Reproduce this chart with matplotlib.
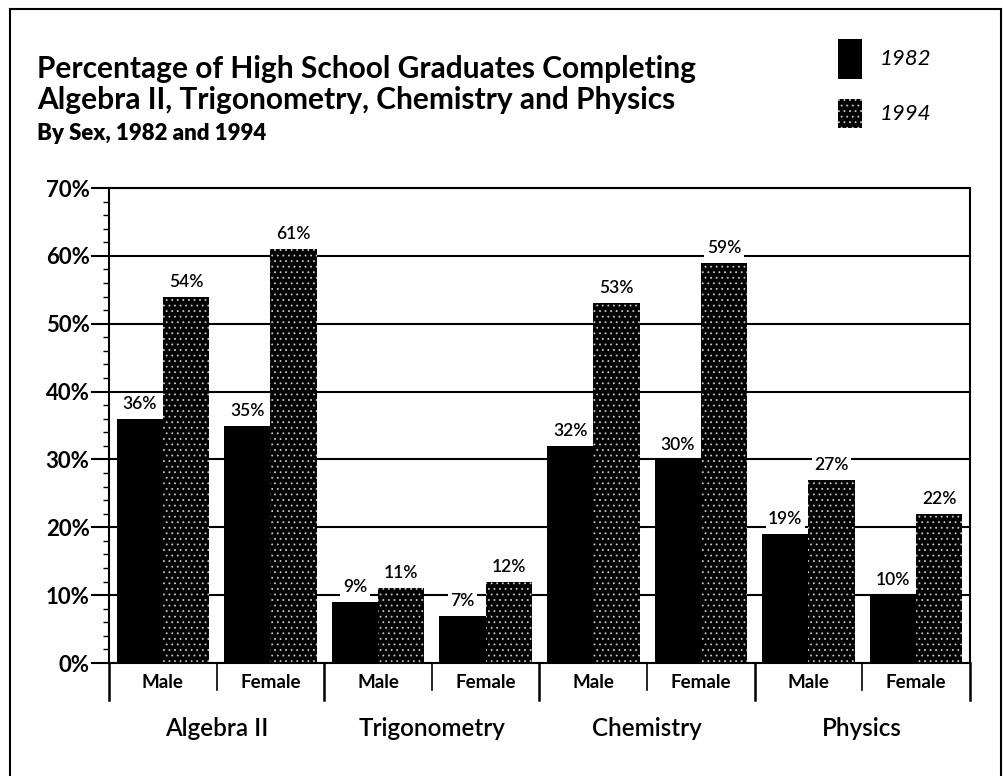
import matplotlib
matplotlib.use("Agg")
import matplotlib.pyplot as plt
from matplotlib.patches import Rectangle

plt.rcParams['font.family'] = ['Lato', 'DejaVu Sans']
plt.rcParams['hatch.linewidth'] = 0.6

# data
subjects = ["Algebra II", "Trigonometry", "Chemistry", "Physics"]
sexes = ["Male", "Female"]
pct_1982 = [36, 35, 9, 7, 32, 30, 19, 10]
pct_1994 = [54, 61, 11, 12, 53, 59, 27, 22]
years = ["1982", "1994"]

fig = plt.figure(figsize=(10.04, 7.76), dpi=100)
ax = fig.add_axes([0.1086, 0.1456, 0.8574, 0.6121])

x = list(range(len(pct_1982)))
w = 0.43
ax.bar([i - w / 2 for i in x], pct_1982, width=w, color="black", lw=0, zorder=2)
ax.bar([i + w / 2 for i in x], pct_1994, width=w, color="black",
       edgecolor="#c8c8c8", hatch="...", lw=0, zorder=2)

# value labels
for i in x:
    for off, v in ((-w / 2, pct_1982[i]), (w / 2, pct_1994[i])):
        ax.annotate(f"{v}%", (i + off, v), xytext=(0, 5), textcoords="offset points",
                    ha="center", va="bottom", fontsize=12.5, fontweight="semibold",
                    bbox=dict(boxstyle="square,pad=0.15", fc="white", ec="none"),
                    zorder=3)

ax.set_xlim(-0.5, 7.5)
ax.set_ylim(0, 70)
ax.set_yticks(range(0, 71, 10))
ax.set_yticklabels([f"{t}%" for t in range(0, 71, 10)], fontsize=16, fontweight="bold")
ax.set_yticks(range(0, 71, 2), minor=True)
ax.tick_params(axis="y", which="major", length=13, width=1.5, pad=1)
ax.tick_params(axis="y", which="minor", length=4, width=1)
ax.set_xticks([])
ax.yaxis.grid(True, color="black", lw=1.5, zorder=0)
ax.set_axisbelow(True)
for s in ax.spines.values():
    s.set_linewidth(1.5)

# group separators and labels below the axis
tr = ax.get_xaxis_transform()
for b in [-0.5, 1.5, 3.5, 5.5, 7.5]:
    ax.plot([b, b], [0, -0.078], transform=tr, color="black", lw=1.8, clip_on=False)
for b in [0.5, 2.5, 4.5, 6.5]:
    ax.plot([b, b], [0, -0.057], transform=tr, color="black", lw=1.2, clip_on=False)
for i in x:
    ax.text(i, -0.04, sexes[i % 2], transform=tr, ha="center", va="center",
            fontsize=13.5, fontweight="bold")
for g, name in enumerate(subjects):
    ax.text(2 * g + 0.5, -0.137, name, transform=tr, ha="center", va="center",
            fontsize=17.5, fontweight="semibold")

# titles
fig.text(0.037, 0.911, "Percentage of High School Graduates Completing",
         fontsize=21.5, fontweight="bold", va="center")
fig.text(0.037, 0.871, "Algebra II, Trigonometry, Chemistry and Physics",
         fontsize=21.5, fontweight="bold", va="center")
fig.text(0.037, 0.828, "By Sex, 1982 and 1994", fontsize=16, fontweight="heavy", va="center")

# legend
fig.patches.append(Rectangle((0.835, 0.898), 0.024, 0.052, transform=fig.transFigure,
                             fc="black", ec="none"))
fig.patches.append(Rectangle((0.835, 0.835), 0.024, 0.038, transform=fig.transFigure,
                             fc="black", ec="#c8c8c8", hatch="...", lw=0))
fig.text(0.876, 0.924, years[0], fontsize=16, style="italic", va="center")
fig.text(0.876, 0.853, years[1], fontsize=16, style="italic", va="center")

# outer frame
fig.patches.append(Rectangle((0.01, -0.01), 0.987, 0.999, transform=fig.transFigure,
                             fc="none", ec="black", lw=1.5))

fig.savefig("out.png", dpi=100)
